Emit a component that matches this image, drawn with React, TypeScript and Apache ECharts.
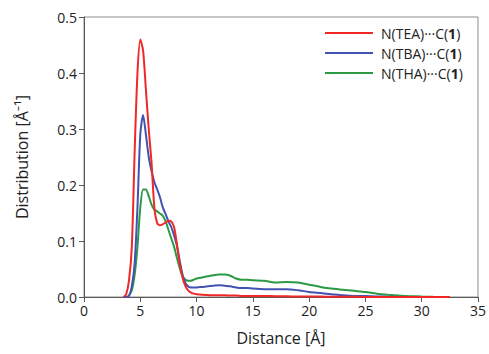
import React, { useEffect, useRef } from "react";
import * as echarts from "echarts";

const distance = [
  3.5, 3.75, 4.0, 4.25, 4.5, 4.75, 5.0, 5.25, 5.5, 5.75, 6.0, 6.25, 6.5, 6.75, 7.0, 7.25, 7.5, 7.75,
  8.0, 8.25, 8.5, 8.75, 9.0, 9.25, 9.5, 9.75, 10, 10.5, 11, 11.5, 12, 12.5, 13, 13.5, 14, 14.5, 15,
  16, 17, 18, 19, 20, 21, 22, 23, 24, 25, 26, 27, 28, 29, 30, 31, 32, 32.5,
];

const teaValues = [
  0, 0.005, 0.03, 0.09, 0.26, 0.4, 0.46, 0.44, 0.37, 0.3, 0.24, 0.16, 0.132, 0.128, 0.13, 0.133, 0.136, 0.135,
  0.125, 0.095, 0.06, 0.035, 0.02, 0.012, 0.008, 0.006, 0.005, 0.004, 0.0035, 0.003, 0.003, 0.003, 0.0025, 0.0025, 0.002, 0.002, 0.002,
  0.0018, 0.0015, 0.0012, 0.001, 0.001, 0.0008, 0.0005, 0.0004, 0.0003, 0.0002, 0.0001, 0, 0, 0, 0, 0, 0, 0,
];

const tbaValues = [
  0, 0, 0.002, 0.02, 0.06, 0.16, 0.29, 0.325, 0.29, 0.25, 0.225, 0.205, 0.192, 0.178, 0.16, 0.148, 0.135, 0.125,
  0.11, 0.092, 0.065, 0.04, 0.025, 0.019, 0.017, 0.017, 0.017, 0.018, 0.019, 0.02, 0.021, 0.02, 0.019, 0.017, 0.016, 0.016, 0.015,
  0.014, 0.014, 0.014, 0.012, 0.009, 0.007, 0.005, 0.003, 0.002, 0.002, 0.001, 0.0005, 0.0002, 0.0001, 0, 0, 0, 0,
];

const thaValues = [
  0, 0, 0.003, 0.012, 0.04, 0.09, 0.16, 0.192, 0.192, 0.18, 0.165, 0.156, 0.153, 0.149, 0.145, 0.135, 0.12, 0.105,
  0.09, 0.07, 0.052, 0.037, 0.031, 0.029, 0.029, 0.031, 0.033, 0.035, 0.037, 0.039, 0.04, 0.04, 0.038, 0.033, 0.031, 0.031, 0.03,
  0.029, 0.026, 0.027, 0.026, 0.022, 0.018, 0.015, 0.013, 0.011, 0.009, 0.006, 0.004, 0.0025, 0.0015, 0.0008, 0.0003, 0.0001, 0,
];

const seriesNames = ["N(TEA)···C(1)", "N(TBA)···C(1)", "N(THA)···C(1)"];
const seriesColors = ["#f02828", "#4252b2", "#2c9a44"];
const seriesValues = [teaValues, tbaValues, thaValues];

const xTicks = { min: 0, max: 35, interval: 5 };
const yTicks = { min: 0, max: 0.5, interval: 0.1 };

const FONT = "'Open Sans', 'Noto Sans', sans-serif";

export default function App() {
  const ref = useRef<HTMLDivElement>(null);
  useEffect(() => {
    if (!ref.current) return;
    const chart = echarts.init(ref.current, undefined, { renderer: "svg" });
    chart.setOption({
      animation: false,
      textStyle: { fontFamily: FONT },
      grid: {
        left: 84,
        right: 8,
        top: 17,
        bottom: 57,
        show: true,
        borderColor: "#8c8c8c",
        borderWidth: 1,
      },
      legend: {
        orient: "vertical",
        left: 325,
        top: 23,
        padding: 0,
        itemWidth: 48,
        itemHeight: 2,
        itemGap: 0,
        icon: "rect",
        data: seriesNames,
        formatter: (name: string) => {
          const base = name.replace("(1)", "(");
          return `{n|${base}}{b|1}{n|)}`;
        },
        textStyle: {
          color: "#222",
          fontFamily: FONT,
          fontSize: 14,
          lineHeight: 20,
          padding: [0, 0, 0, 3],
          rich: {
            n: { fontFamily: FONT, fontSize: 14, color: "#222", lineHeight: 20 },
            b: { fontFamily: FONT, fontSize: 14, color: "#222", fontWeight: "bold", lineHeight: 20 },
          },
        },
      },
      xAxis: {
        type: "value",
        min: xTicks.min,
        max: xTicks.max,
        interval: xTicks.interval,
        name: "Distance [Å]",
        nameLocation: "middle",
        nameGap: 33,
        nameTextStyle: { fontFamily: FONT, fontSize: 16, color: "#222" },
        axisLine: { show: true, lineStyle: { color: "#595959", width: 1 } },
        axisTick: { show: true, length: 5, lineStyle: { color: "#595959" } },
        axisLabel: { fontFamily: FONT, fontSize: 14, color: "#222", margin: 6 },
        splitLine: { show: false },
      },
      yAxis: {
        type: "value",
        min: yTicks.min,
        max: yTicks.max,
        interval: yTicks.interval,
        name: "Distribution [Å⁻¹]",
        nameLocation: "middle",
        nameGap: 54,
        nameRotate: 90,
        nameTextStyle: { fontFamily: FONT, fontSize: 16, color: "#222" },
        axisLine: { show: true, lineStyle: { color: "#595959", width: 1 } },
        axisTick: { show: true, length: 5, lineStyle: { color: "#595959" } },
        axisLabel: {
          fontFamily: FONT,
          fontSize: 14,
          color: "#222",
          margin: 7,
          formatter: (v: number) => v.toFixed(1),
        },
        splitLine: { show: false },
      },
      series: seriesNames.map((name, i) => ({
        name,
        type: "line",
        showSymbol: false,
        smooth: 0.25,
        color: seriesColors[i],
        lineStyle: { width: 2, color: seriesColors[i] },
        data: distance.map((d, j) => [d, seriesValues[i][j]]),
        z: 3 - i,
      })),
    });
    return () => chart.dispose();
  }, []);
  return <div ref={ref} style={{ width: 489, height: 354, position: "absolute", left: 0, top: 0 }} />;
}
